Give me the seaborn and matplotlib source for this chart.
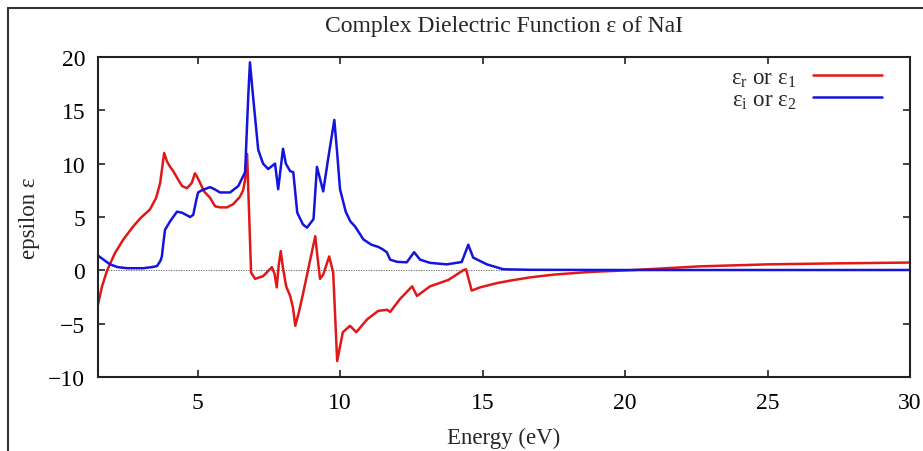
import matplotlib
matplotlib.use("Agg")
import matplotlib.pyplot as plt
import seaborn as sns
import pandas as pd
from matplotlib.lines import Line2D

# ---- data ----
energy_r = [1.5, 1.65, 1.83, 2.1, 2.4, 2.74, 3.0, 3.33, 3.55, 3.69, 3.83, 3.93, 4.04, 4.15, 4.3,
            4.46, 4.63, 4.8, 4.91, 5.0, 5.09, 5.23, 5.44, 5.62, 5.8, 6.03, 6.25, 6.49, 6.6, 6.67,
            6.74, 6.88, 7.02, 7.3, 7.61, 7.7, 7.78, 7.85, 7.92, 8.0, 8.11, 8.25, 8.35, 8.43, 8.55,
            8.71, 8.9, 9.13, 9.22, 9.3, 9.41, 9.62, 9.76, 9.9, 10.1, 10.35, 10.57, 10.95, 11.34,
            11.65, 11.76, 12.1, 12.53, 12.7, 13.16, 13.8, 14.32, 14.42, 14.62, 14.91, 15.5, 16.0,
            16.67, 17.5, 18.77, 20.3, 22.6, 25.0, 27.3, 30.0]
eps_r = [-3.3, -1.5, 0.0, 1.6, 2.9, 4.1, 4.9, 5.7, 6.8, 8.2, 11.0, 10.2, 9.7, 9.3, 8.6,
         7.9, 7.7, 8.2, 9.1, 8.7, 8.2, 7.4, 6.8, 6.0, 5.9, 5.9, 6.2, 6.9, 7.5, 8.5,
         10.9, -0.2, -0.8, -0.55, 0.3, -0.3, -1.6, 0.5, 1.8, 0.2, -1.5, -2.4, -3.5, -5.2, -4.0,
         -2.1, 0.3, 3.2, 1.0, -0.8, -0.4, 1.3, -0.2, -8.5, -5.8, -5.2, -5.8, -4.6, -3.8,
         -3.7, -3.9, -2.7, -1.5, -2.4, -1.5, -0.9, 0.0, 0.1, -1.9, -1.6, -1.2, -0.95,
         -0.66, -0.4, -0.15, 0.03, 0.37, 0.56, 0.65, 0.73]

energy_i = [1.5, 1.93, 2.2, 2.53, 3.1, 3.4, 3.58, 3.7, 3.75, 3.8, 3.86, 4.04, 4.28, 4.46, 4.6,
            4.74, 4.85, 4.95, 5.02, 5.15, 5.44, 5.6, 5.79, 6.14, 6.43, 6.67, 6.78, 6.84, 6.96,
            7.13, 7.3, 7.48, 7.72, 7.83, 8.0, 8.1, 8.25, 8.36, 8.5, 8.7, 8.84, 9.07, 9.19, 9.41,
            9.58, 9.8, 9.9, 10.0, 10.2, 10.36, 10.53, 10.82, 11.1, 11.34, 11.48, 11.64, 11.76,
            12.0, 12.34, 12.6, 12.81, 13.16, 13.75, 14.27, 14.5, 14.67, 15.15, 15.73, 16.67,
            20.0, 25.0, 30.0]
eps_i = [1.4, 0.56, 0.3, 0.2, 0.2, 0.3, 0.4, 0.9, 1.3, 2.5, 3.8, 4.6, 5.5, 5.4, 5.2,
         5.0, 5.2, 6.5, 7.3, 7.5, 7.8, 7.6, 7.3, 7.3, 7.9, 9.2, 16.3, 19.5, 16.0,
         11.3, 10.0, 9.5, 10.0, 7.6, 11.4, 10.0, 9.3, 9.2, 5.4, 4.3, 4.0, 4.8, 9.7, 7.4,
         10.4, 14.1, 11.0, 7.6, 5.5, 4.6, 4.1, 2.9, 2.4, 2.2, 2.0, 1.7, 1.0,
         0.8, 0.75, 1.7, 1.0, 0.7, 0.56, 0.78, 2.4, 1.2, 0.56, 0.1, 0.05,
         0.03, 0.03, 0.03]

x_ticks = [5, 10, 15, 20, 25, 30]
y_ticks = [-10, -5, 0, 5, 10, 15, 20]
label_r = "ε$_\\mathregular{r}$ or ε$_\\mathregular{1}$"
label_i = "ε$_\\mathregular{i}$ or ε$_\\mathregular{2}$"

# ---- style ----
sns.set_style("ticks", {"xtick.direction": "in", "ytick.direction": "in"})
plt.rcParams["font.family"] = ["Liberation Serif", "DejaVu Serif"]
plt.rcParams["mathtext.fontset"] = "custom"
plt.rcParams["mathtext.rm"] = "Liberation Serif"

df_r = pd.DataFrame({"Energy": energy_r, "eps": eps_r})
df_i = pd.DataFrame({"Energy": energy_i, "eps": eps_i})

fig = plt.figure(figsize=(9.23, 4.52), dpi=100)
ax = fig.add_axes([0.1059, 0.1637, 0.986 - 0.1059, 0.8717 - 0.1637])

ax.axhline(0, color="#555555", lw=0.6, ls=(0, (1.5, 1.5)), zorder=1)
sns.lineplot(data=df_r, x="Energy", y="eps", ax=ax, color="#e01818", lw=1.8,
             label=label_r, sort=False, estimator=None)
sns.lineplot(data=df_i, x="Energy", y="eps", ax=ax, color="#1414dc", lw=1.8,
             label=label_i, sort=False, estimator=None)

ax.set_xlim(1.5, 30)
ax.set_ylim(-10, 20)
ax.set_xticks(x_ticks)
ax.set_yticks(y_ticks)
ax.set_yticklabels([str(v).replace("-", "\u2212") for v in y_ticks])
ax.tick_params(axis="both", which="both", direction="in", length=5, width=1.2,
               labelsize=17, top=True, right=True, colors="#222222", labelcolor="black")
ax.tick_params(axis="x", pad=11)
ax.tick_params(axis="y", pad=9)
for s in ax.spines.values():
    s.set_visible(True)
    s.set_linewidth(1.5)
    s.set_color("#222222")

ax.set_xlabel("Energy (eV)", fontsize=16.5, labelpad=10)
ax.set_ylabel("epsilon ε", fontsize=16.5, labelpad=6)
ax.set_title("Complex Dielectric Function ε of NaI", fontsize=17, pad=19)

leg = ax.legend(loc="upper right", frameon=False, markerfirst=False, fontsize=16.5,
                handlelength=3.0, handletextpad=0.75, labelspacing=0.0,
                bbox_to_anchor=(0.985, 1.02), borderaxespad=0.3)

# outer frame lines (top and left) as in the reference screenshot
fig.add_artist(Line2D([8 / 923, 1.0], [1 - 9 / 452, 1 - 9 / 452], color="#333333", lw=1.5,
                      transform=fig.transFigure))
fig.add_artist(Line2D([8 / 923, 8 / 923], [0, 1 - 9 / 452], color="#333333", lw=1.5,
                      transform=fig.transFigure))

fig.savefig("out.png", dpi=100)
